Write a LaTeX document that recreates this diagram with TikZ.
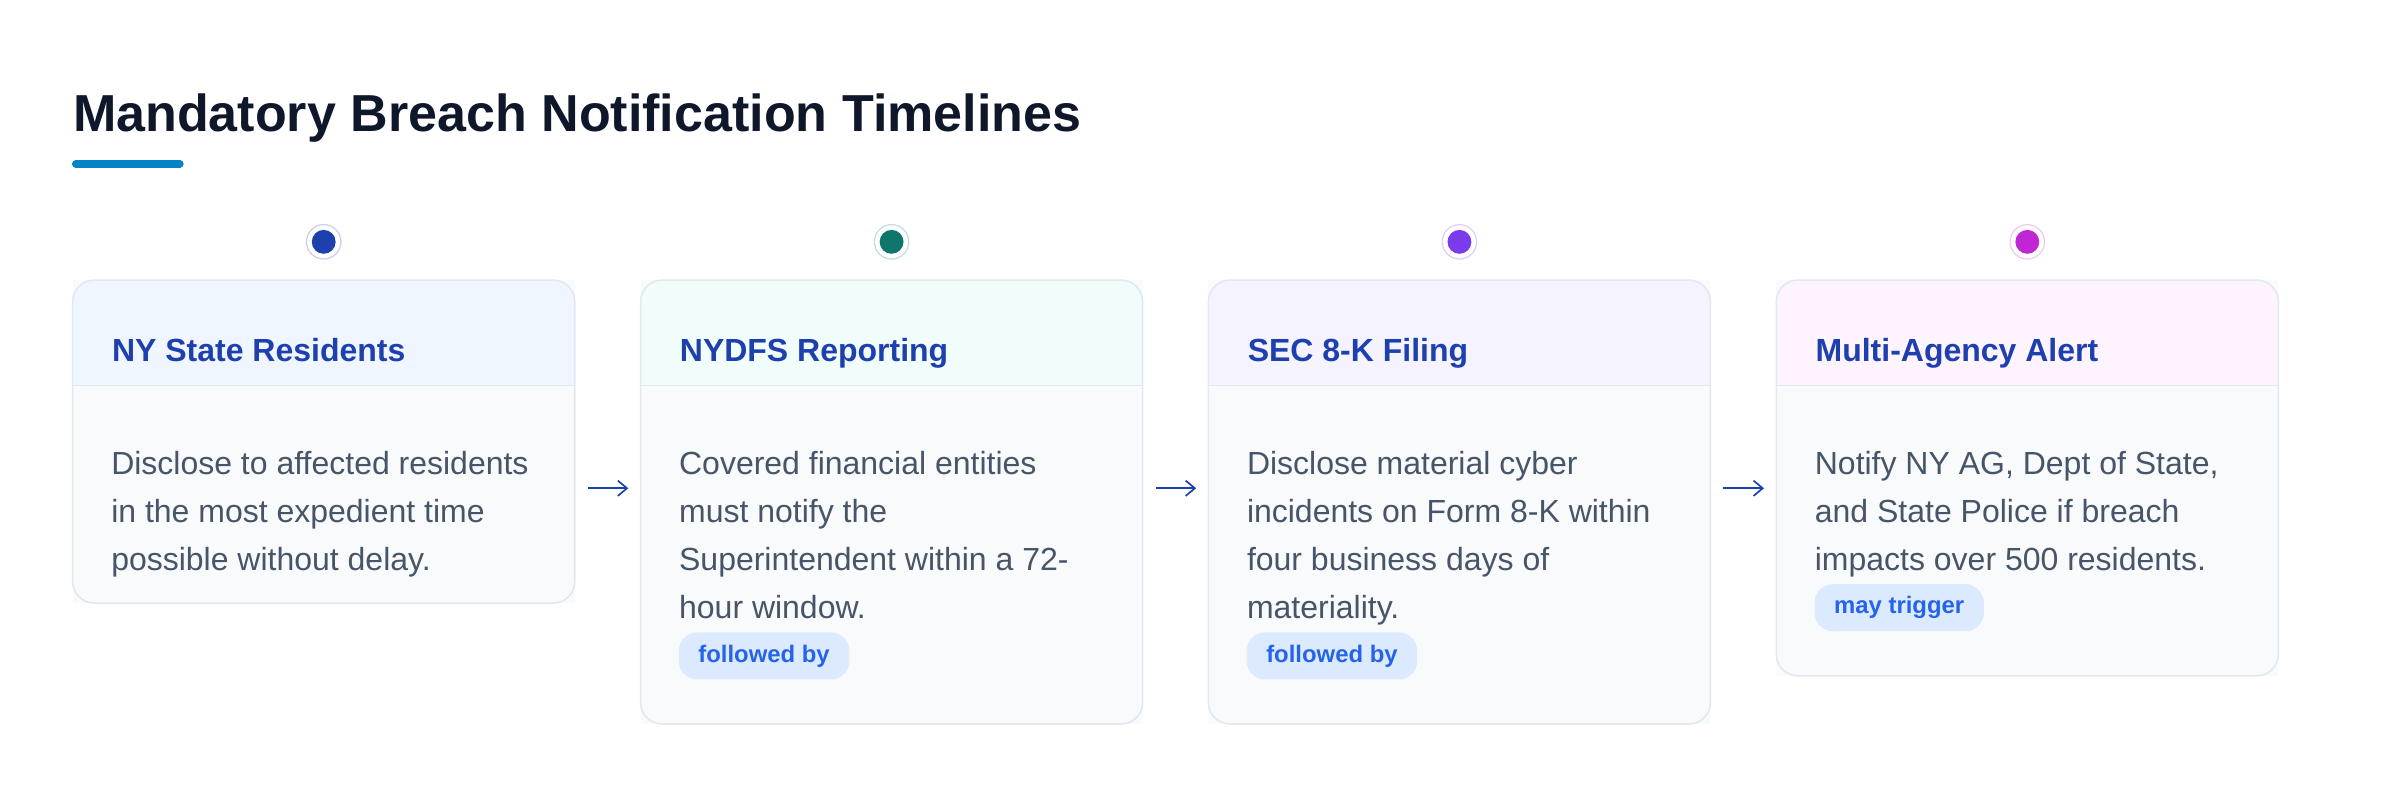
\documentclass[tikz,border=0pt]{standalone}
\usepackage{fontspec}
\setmainfont{Liberation Sans}
\usetikzlibrary{arrows.meta}
\definecolor{titlec}{HTML}{0F172A}
\definecolor{accent}{HTML}{0284C7}
\definecolor{headtext}{HTML}{1E40AF}
\definecolor{bodytext}{HTML}{475569}
\definecolor{badgefill}{HTML}{DBEAFE}
\definecolor{badgetext}{HTML}{2563EB}
\definecolor{cardfill}{HTML}{F8FAFC}
\definecolor{cardline}{HTML}{E2E8F0}
\definecolor{hA}{HTML}{EFF6FF}
\definecolor{hB}{HTML}{F0FDFA}
\definecolor{hC}{HTML}{F5F3FF}
\definecolor{hD}{HTML}{FDF4FF}
\definecolor{dA}{HTML}{1E40AF}
\definecolor{dB}{HTML}{0F766E}
\definecolor{dC}{HTML}{7C3AED}
\definecolor{dD}{HTML}{C026D3}
\definecolor{arrowc}{HTML}{1E40AF}
\tikzset{
  cardbox/.style={rectangle, fill=cardfill, draw=none, minimum width=328pt, inner sep=0pt, outer sep=0pt, anchor=north west},
  cardborder/.style={draw=cardline, line width=1pt, rounded corners=14pt},
  headline/.style={anchor=base west, inner sep=0pt, text=headtext, font=\bfseries\fontsize{20.9}{25}\selectfont},
  bodytxt/.style={anchor=base west, inner sep=0pt, text=bodytext, align=left, font=\fontsize{20.9}{31.3}\selectfont},
  badge/.style={anchor=north west, fill=badgefill, text=badgetext, rounded corners=12pt, inner xsep=12.8pt, inner ysep=0pt, minimum height=30.7pt, font=\bfseries\fontsize{15.6}{18}\selectfont},
  dotring/.style={circle, fill=white, draw=#1!25, line width=0.8pt, minimum size=22.5pt, inner sep=0pt},
  dotcore/.style={circle, fill=#1, minimum size=15.6pt, inner sep=0pt},
  flow/.style={draw=arrowc, line width=1.1pt, -{Straight Barb[length=6pt,width=10pt]}},
}
\begin{document}
\begin{tikzpicture}[x=1pt,y=-1pt]
\useasboundingbox (0,0) rectangle (1568,521.36);
\fill[white] (0,0) rectangle (1568,521.36);
% title
\node[anchor=base west, inner sep=0pt, text=titlec, font=\bfseries\fontsize{34}{40}\selectfont] (title) at (47.5,86) {Mandatory Breach Notification Timelines};
\coordinate (ulA) at (49.5,107);
\coordinate (ulB) at (117.5,107);
\draw[accent, line width=5pt, line cap=round] (ulA) -- (ulB);
% cards
\node[cardbox, minimum height=211pt] (c1) at (47.5,183) {};
\node[cardbox, minimum height=290pt] (c2) at (418.5,183) {};
\node[cardbox, minimum height=290pt] (c3) at (789.5,183) {};
\node[cardbox, minimum height=258.5pt] (c4) at (1160.5,183) {};
\foreach \c/\h in {c1/hA,c2/hB,c3/hC,c4/hD}{
  \begin{scope}
    \clip[rounded corners=14pt] (\c.north west) rectangle (\c.south east);
    \fill[\h] (\c.north west) rectangle ([yshift=-69pt]\c.north east);
  \end{scope}
  \draw[cardline, line width=1pt] ([yshift=-69pt]\c.north west) -- ([yshift=-69pt]\c.north east);
  \draw[cardborder] (\c.north west) rectangle (\c.south east);
}
% dots
\foreach \c/\d [count=\i] in {c1/dA,c2/dB,c3/dC,c4/dD}{
  \node[dotring=\d] (r\i) at ([yshift=25pt]\c.north) {};
  \node[dotcore=\d] (p\i) at (r\i.center) {};
}
% headers
\node[headline] (h1) at (73,236) {NY State Residents};
\node[headline] (h2) at (444,236) {NYDFS Reporting};
\node[headline] (h3) at (815,236) {SEC 8-K Filing};
\node[headline] (h4) at (1186,236) {Multi-Agency Alert};
% bodies (base anchor = baseline of the last line)
\node[bodytxt] (b1) at (72.5,372.9) {Disclose to affected residents\\in the most expedient time\\possible without delay.};
\node[bodytxt] (b2) at (443.5,404.2) {Covered financial entities\\must notify the\\Superintendent within a 72-\\hour window.};
\node[bodytxt] (b3) at (814.5,404.2) {Disclose material cyber\\incidents on Form 8-K within\\four business days of\\materiality.};
\node[bodytxt] (b4) at (1185.5,372.9) {Notify NY AG, Dept of State,\\and State Police if breach\\impacts over 500 residents.};
% badges
\node[badge] (t2) at (443.3,413) {followed by};
\node[badge] (t3) at (814.3,413) {followed by};
\node[badge] (t4) at (1185.3,381.5) {may trigger};
% arrows
\coordinate (a1s) at ([xshift=8.5pt]c1.east |- 0,319);
\coordinate (a1e) at ([xshift=-8pt]c2.west |- 0,319);
\coordinate (a2s) at ([xshift=8.5pt]c2.east |- 0,319);
\coordinate (a2e) at ([xshift=-8pt]c3.west |- 0,319);
\coordinate (a3s) at ([xshift=8.5pt]c3.east |- 0,319);
\coordinate (a3e) at ([xshift=-8pt]c4.west |- 0,319);
\draw[flow] (a1s) -- (a1e);
\draw[flow] (a2s) -- (a2e);
\draw[flow] (a3s) -- (a3e);
\end{tikzpicture}
\end{document}
